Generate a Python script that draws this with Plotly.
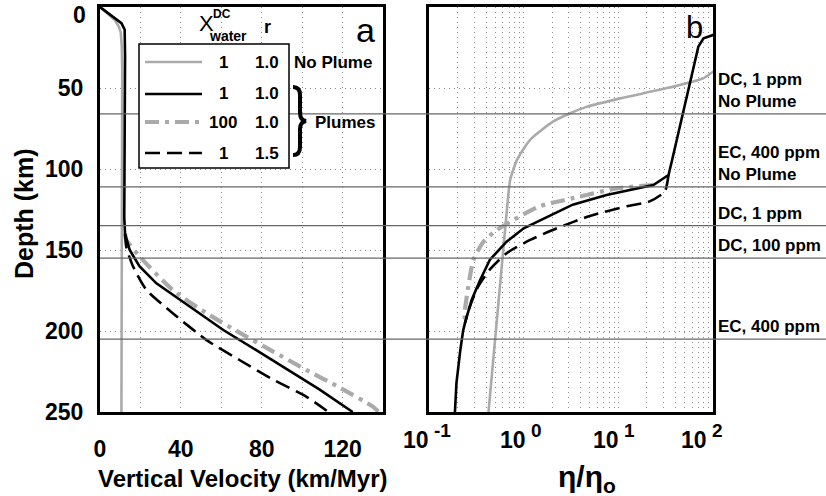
import math
import plotly.graph_objects as go

W, H = 826, 496

# ---------------- Panel a: vertical velocity (km/Myr) vs depth (km) ----------------
depth_noplume_a = [0, 4, 8, 12, 16, 25, 40, 250]
vel_noplume_a = [0, 3.8, 7.3, 9.3, 10.3, 10.8, 11.0, 10.6]

depth_plume_a = [0, 10, 14, 30, 130, 140, 150, 160, 170.6, 185, 199.4, 212, 224, 236, 250]
vel_plume_a = [0, 10.6, 12.2, 12.4, 12.0, 12.4, 14.7, 19.5, 27.9, 44.4, 61, 77.5, 93, 108.5, 125]

depth_wet_a = [140, 143.8, 154, 174.7, 189, 201, 212.7, 224, 235, 246.7, 250]
vel_wet_a = [12.4, 13, 19.6, 36, 52.7, 69, 85.7, 102, 118.7, 135, 138]

depth_r15_a = [140, 148, 160, 174.7, 189, 205.6, 217.9, 230, 240.5, 250]
vel_r15_a = [12.4, 13, 16.3, 23, 36, 52.7, 69, 85.7, 102, 113]

# ---------------- Panel b: eta/eta0 vs depth (km) ----------------
depth_plume_b = [12, 17.3, 19.3, 24.5, 94.4, 103.7, 109.9, 116, 122, 131.5, 136.6, 144.9,
                 156, 168.5, 180.9, 195, 200, 212, 232, 250]
eta_plume_b = [141, 100, 79.4, 70, 37, 33.9, 23.4, 7.5, 3.3, 1.48, 1.0, 0.66,
               0.44, 0.347, 0.282, 0.24, 0.229, 0.214, 0.195, 0.188]

depth_noplume_b = [30, 40, 44, 49.6, 56.4, 61.5, 65.6, 70.8, 82, 94.4, 106.8, 119, 250]
eta_noplume_b = [200, 100, 79, 35.5, 10.5, 4.7, 3.1, 2.04, 1.17, 0.85, 0.72, 0.68, 0.425]

depth_wet_b = [109.9, 112, 118, 123, 131.5, 137.7, 144.9, 156, 172.6, 187, 195]
eta_wet_b = [23.4, 9.55, 3.31, 1.48, 0.776, 0.519, 0.376, 0.295, 0.26, 0.24, 0.238]

depth_r15_b = [103.7, 114, 120, 123, 129, 136.6, 143.8, 152, 162, 172.6, 185, 195]
eta_r15_b = [33.9, 30.9, 21.4, 12.3, 5.0, 2.24, 1.17, 0.66, 0.44, 0.33, 0.27, 0.24]

# boundary depths and their labels
boundary_depths = [66, 111, 135, 155, 205]
boundary_labels = ["DC, 1 ppm<br>No Plume", "EC, 400 ppm<br>No Plume", "DC, 1 ppm",
                   "DC, 100 ppm", "EC, 400 ppm"]

# legend table
legend_water = ["1", "1", "100", "1"]
legend_r = ["1.0", "1.0", "1.0", "1.5"]

y_ticks = [50, 100, 150, 200, 250]
va_ticks = [0, 40, 80, 120]
va_minor = [20, 60, 100]
eta_ticks = [0.1, 1, 10, 100]
eta_exp = ["-1", "0", "1", "2"]
eta_minor = [m * 10 ** e for e in (-1, 0, 1) for m in range(2, 10)]

GRAY = "#aaaaaa"
GRID = "#8a8a8a"
FONT = "Liberation Sans, Arial, sans-serif"

styles = {
    "noplume": dict(color=GRAY, width=2.6, dash="solid"),
    "plume": dict(color="black", width=2.6, dash="solid"),
    "wet": dict(color=GRAY, width=4.2, dash="14px,6px,4px,6px"),
    "r15": dict(color="black", width=2.6, dash="15px,7px"),
}

fig = go.Figure()


def add(x, y, st, xa, ya, shape="spline"):
    fig.add_trace(go.Scatter(x=x, y=y, mode="lines", line=dict(**styles[st], shape=shape, smoothing=0.6),
                             xaxis=xa, yaxis=ya, showlegend=False, hoverinfo="skip"))


add(vel_noplume_a, depth_noplume_a, "noplume", "x", "y", "linear")
add(vel_wet_a, depth_wet_a, "wet", "x", "y")
add(vel_r15_a, depth_r15_a, "r15", "x", "y")
add(vel_plume_a, depth_plume_a, "plume", "x", "y", "linear")

add(eta_noplume_b, depth_noplume_b, "noplume", "x2", "y2")
add(eta_wet_b, depth_wet_b, "wet", "x2", "y2")
add(eta_r15_b, depth_r15_b, "r15", "x2", "y2")
add(eta_plume_b, depth_plume_b, "plume", "x2", "y2", "linear")


def px(v):
    return v / W


def py(v):
    return 1 - v / H


ydom = [py(412), py(7)]
tickfont = dict(family=FONT, size=23, color="black", weight="bold")
common_axis = dict(showline=True, linewidth=3, linecolor="black", mirror=True,
                   showgrid=True, gridcolor=GRID, gridwidth=1, griddash="1px,4px",
                   zeroline=False, ticks="", tickfont=tickfont, automargin=False)
minor_grid = dict(showgrid=True, gridcolor=GRID, griddash="1px,4px", gridwidth=1, ticks="")

fig.update_layout(
    width=W, height=H,
    margin=dict(l=0, r=0, t=0, b=0, autoexpand=False),
    paper_bgcolor="white", plot_bgcolor="rgba(0,0,0,0)",
    showlegend=False,
    xaxis=dict(domain=[px(100), px(383)], range=[0, 140], tickvals=va_ticks,
               minor=dict(tickvals=va_minor, **minor_grid),
               anchor="y", ticklabelstandoff=14, **common_axis),
    yaxis=dict(domain=ydom, range=[250, 0], tickvals=y_ticks, anchor="x",
               ticklabelstandoff=9, **common_axis),
    xaxis2=dict(domain=[px(429), px(713)], type="log", range=[-1, 2], tickvals=eta_ticks,
                showticklabels=False, anchor="y2",
                minor=dict(tickvals=eta_minor, **minor_grid),
                **common_axis),
    yaxis2=dict(domain=ydom, range=[250, 0], tickvals=y_ticks, showticklabels=False,
                anchor="x2", matches="y", **common_axis),
)

shapes = []
# horizontal boundary lines across both panels
for d in boundary_depths:
    shapes.append(dict(type="line", xref="paper", yref="y", x0=px(100), x1=1.0, y0=d, y1=d,
                       line=dict(color="#666666", width=1.2), layer="above"))
# legend box
shapes.append(dict(type="rect", xref="paper", yref="paper", x0=px(139), x1=px(289), y0=py(168), y1=py(44),
                   fillcolor="white", line=dict(color="black", width=1.5), layer="above"))
row_y = [62, 94, 122, 153]
for st, ry in zip(["noplume", "plume", "wet", "r15"], row_y):
    s = styles[st]
    shapes.append(dict(type="line", xref="paper", yref="paper", x0=px(145), x1=px(202), y0=py(ry), y1=py(ry),
                       line=dict(color=s["color"], width=s["width"], dash=s["dash"]), layer="above"))
# brace
brace = (f"M {px(293)},{py(87)} Q {px(300)},{py(87)} {px(300)},{py(95)} L {px(300)},{py(113)} "
         f"Q {px(300)},{py(120)} {px(306)},{py(121)} Q {px(300)},{py(122)} {px(300)},{py(129)} "
         f"L {px(300)},{py(147)} Q {px(300)},{py(155)} {px(293)},{py(155)}")
shapes.append(dict(type="path", xref="paper", yref="paper", path=brace,
                   line=dict(color="black", width=4), layer="above"))
fig.update_layout(shapes=shapes)

ann = []


def text(x, y, t, size=17, bold=True, xanchor="center", yanchor="middle", **kw):
    ann.append(dict(x=px(x), y=py(y), xref="paper", yref="paper", text=t, showarrow=False,
                    xanchor=xanchor, yanchor=yanchor,
                    font=dict(family=FONT, size=size, color="black", weight="bold" if bold else "normal"),
                    **kw))


for d, lab in zip(boundary_depths, boundary_labels):
    ann.append(dict(x=px(716), y=d, xref="paper", yref="y", text=lab, showarrow=False,
                    xanchor="left", yanchor="bottom", align="left", yshift=1,
                    font=dict(family=FONT, size=17, color="black", weight="bold")))

# log-axis tick labels: "10" with a large superscript exponent (annotation x is log10 on a log axis)
label_shift = [-4, -2, -3, -10]
for tv, e, sh in zip(eta_ticks, eta_exp, label_shift):
    lx = math.log10(tv)
    ann.append(dict(x=lx, y=py(440), xref="x2", yref="paper", text="10", showarrow=False,
                    xanchor="right", yanchor="middle", xshift=sh + 6,
                    font=dict(family=FONT, size=23, color="black", weight="bold")))
    ann.append(dict(x=lx, y=py(430), xref="x2", yref="paper", text=e, showarrow=False,
                    xanchor="left", yanchor="middle", xshift=sh + 7,
                    font=dict(family=FONT, size=19, color="black", weight="bold")))

for w, r, ry in zip(legend_water, legend_r, row_y):
    text(223, ry, w)
    text(267, ry, r)
text(292, 62, "No Plume", xanchor="left")
text(313, 122, "Plumes", xanchor="left")
# header
text(206, 24, "X", size=22, bold=False)
text(222, 14, "DC", size=12)
text(228, 36, "water", size=14)
text(267, 27, "r", size=18)
# panel letters
text(365, 30, "a", size=34, bold=False)
text(694, 28, "b", size=31, bold=False)
# top depth label (kept inside the figure like the reference)
text(88, 15, "0", size=23, xanchor="right")
# axis titles
text(24, 214, "Depth (km)", size=25, textangle=-90)
text(242, 478, "Vertical Velocity (km/Myr)", size=24)
text(587, 478, "η/η<sub>o</sub>", size=30)

fig.update_layout(annotations=ann)

fig.write_html("out.html", config={"displayModeBar": False},
               post_script="document.body.style.margin='0px';document.body.style.overflow='hidden';")
